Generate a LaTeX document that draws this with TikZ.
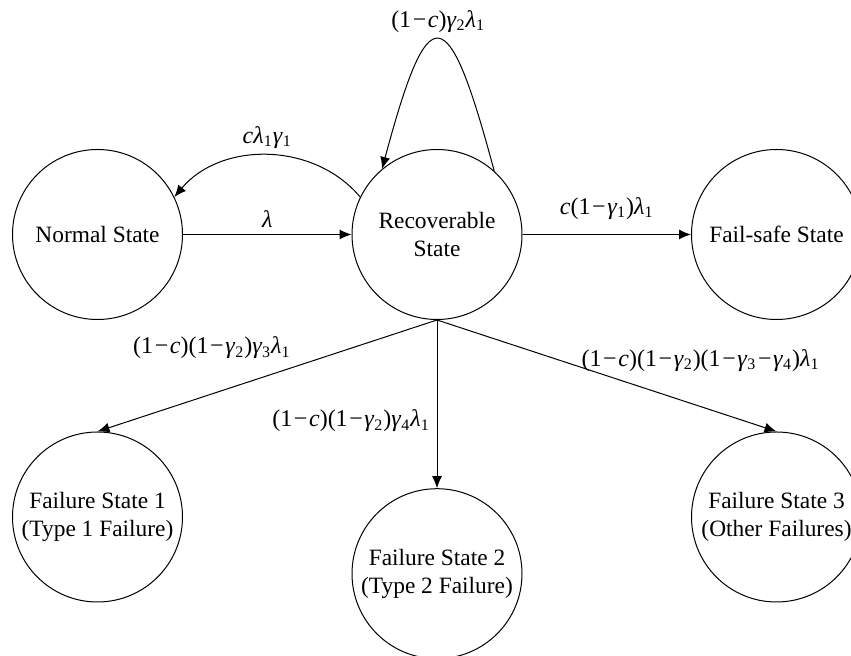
\documentclass[tikz,border=0pt]{standalone}
\usepackage{fontspec}
\setmainfont{Liberation Serif}
\usetikzlibrary{positioning,arrows.meta}
\newcommand{\minussign}{\kern0.8pt−\kern0.8pt}
\newcommand{\gammasub}[1]{\textit{γ}\textsubscript{#1}}
\newcommand{\lambdaone}{\textit{λ}\textsubscript{1}}

\begin{document}
\begin{tikzpicture}[node distance=84.25pt,>={Latex[length=6pt,width=5pt]},line width=0.5pt,font=\fontsize{11.7}{14}\selectfont]
\tikzstyle{state}=[circle,draw,minimum size=85pt,inner sep=0pt,align=center]
\tikzstyle{rate}=[font=\fontsize{12}{14}\selectfont]
\useasboundingbox (-48.75pt,-210.75pt) rectangle (376.75pt,117.25pt);
\node[state] (n) {Normal State};
\node[state,right=of n] (r) {Recoverable\\State};
\node[state,right=of r] (fs) {Fail-safe State};
\node[state,below=55.75pt of n] (f1) {Failure State 1\\(Type 1 Failure)};
\node[state,below=84.1pt of r] (f2) {Failure State 2\\(Type 2 Failure)};
\node[state,below=55.75pt of fs] (f3) {Failure State 3\\(Other Failures)};
\draw[->] (n)--node[rate,above]{\textit{λ}}(r);
\draw[->] (r.154) to[bend right=50] node[rate,above]{\textit{c}\lambdaone\gammasub{1}} (n.26);
\draw[->] (r.48) to[out=105,in=75,looseness=4.1] node[rate,above]{(1\minussign\textit{c})\gammasub{2}\lambdaone} (r.130);
\draw[->] (r)--node[rate,above=4pt]{\textit{c}(1\minussign\gammasub{1})\lambdaone}(fs);
\draw[->] (r.south)--node[rate,pos=0.41,above left]{(1\minussign\textit{c})(1\minussign\gammasub{2})\gammasub{3}\lambdaone}(f1.north);
\draw[->] (r.south)--node[rate,pos=0.6,left]{(1\minussign\textit{c})(1\minussign\gammasub{2})\gammasub{4}\lambdaone}(f2.north);
\draw[->] (r.south)--node[rate,pos=0.405,anchor=west,yshift=2.5pt]{(1\minussign\textit{c})(1\minussign\gammasub{2})(1\minussign\gammasub{3}\minussign\gammasub{4})\lambdaone}(f3.north);
\end{tikzpicture}
\end{document}
